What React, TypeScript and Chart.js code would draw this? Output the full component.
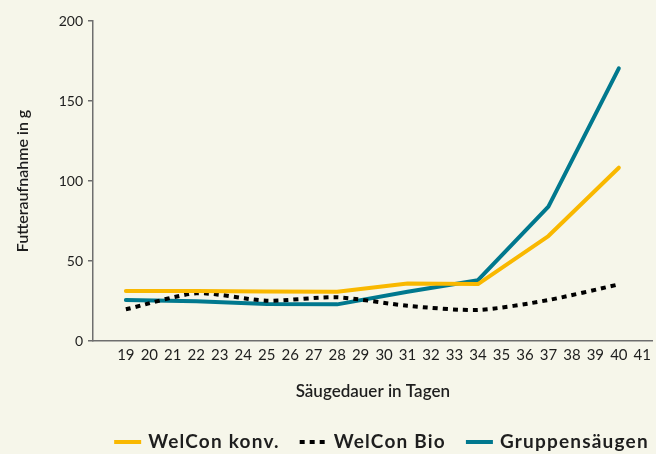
import React, { useEffect, useRef } from 'react';
import { Chart, registerables } from 'chart.js';

Chart.register(...registerables);

const days = [19, 22, 25, 28, 31, 34, 37, 40];
const welconKonv = [31.3, 31.2, 31.0, 30.8, 36.0, 35.6, 65.6, 108.3];
const welconBio = [19.8, 29.8, 25.2, 27.3, 22.0, 19.4, 25.6, 35.4];
const gruppensaeugen = [25.6, 24.8, 23.1, 22.9, 30.8, 38.0, 84.0, 170.4];
const xTickValues = [19, 20, 21, 22, 23, 24, 25, 26, 27, 28, 29, 30, 31, 32, 33, 34, 35, 36, 37, 38, 39, 40, 41];
const yTickValues = [0, 50, 100, 150, 200];
const seriesNames = ['WelCon konv.', 'WelCon Bio', 'Gruppensäugen'];
const xTitle = 'Säugedauer in Tagen';
const yTitle = 'Futteraufnahme in g';

const BG = '#F6F6EA';
const YELLOW = '#F9B800';
const BLACK = '#000000';
const TEAL = '#00788E';
const AXIS = '#6E6E6E';
const TEXT = '#1E1E1E';
const FONT = 'Lato';

const legendPlugin = {
  id: 'customLegend',
  afterDraw(chart: any) {
    const ctx = chart.ctx as any;
    ctx.save();
    ctx.font = `bold 19px ${FONT}`;
    try { ctx.letterSpacing = '1.2px'; } catch (e) {}
    const lineW = 27;
    const gapText = 7;
    const gapItem = 20;
    const items = chart.data.datasets.map((ds: any) => ({
      label: ds.label,
      color: ds.borderColor,
      dash: ds.borderDash || [],
    }));
    const widths = items.map((it: any) => lineW + gapText + ctx.measureText(it.label).width);
    const total = widths.reduce((a: number, b: number) => a + b, 0) + gapItem * (items.length - 1);
    let x = 381.5 - total / 2;
    const y = 442;
    items.forEach((it: any, i: number) => {
      ctx.beginPath();
      ctx.setLineDash(it.dash);
      ctx.lineWidth = 4;
      ctx.strokeStyle = it.color;
      ctx.lineCap = 'butt';
      ctx.moveTo(x, y);
      ctx.lineTo(x + lineW, y);
      ctx.stroke();
      ctx.setLineDash([]);
      ctx.fillStyle = TEXT;
      ctx.textBaseline = 'middle';
      ctx.textAlign = 'left';
      ctx.fillText(it.label, x + lineW + gapText, y);
      x += widths[i] + gapItem;
    });
    ctx.restore();
  },
};

export default function App() {
  const ref = useRef<HTMLCanvasElement | null>(null);

  useEffect(() => {
    if (!ref.current) return;
    const mk = (arr: number[]) => days.map((d, i) => ({ x: d, y: arr[i] }));
    const chart = new Chart(ref.current, {
      type: 'line',
      data: {
        datasets: [
          {
            label: seriesNames[0],
            data: mk(welconKonv),
            borderColor: YELLOW,
            backgroundColor: YELLOW,
            borderWidth: 4,
            pointRadius: 0,
            tension: 0,
            borderCapStyle: 'round',
            borderJoinStyle: 'round',
          },
          {
            label: seriesNames[1],
            data: mk(welconBio),
            borderColor: BLACK,
            backgroundColor: BLACK,
            borderWidth: 4,
            borderDash: [5, 5],
            pointRadius: 0,
            tension: 0.25,
            borderCapStyle: 'butt',
          },
          {
            label: seriesNames[2],
            data: mk(gruppensaeugen),
            borderColor: TEAL,
            backgroundColor: TEAL,
            borderWidth: 4,
            pointRadius: 0,
            tension: 0,
            borderCapStyle: 'round',
            borderJoinStyle: 'round',
          },
        ],
      },
      options: {
        animation: false,
        responsive: false,
        devicePixelRatio: 1,
        layout: { padding: { top: 21, right: 0, left: 0, bottom: 53 } },
        plugins: {
          legend: { display: false },
          tooltip: { enabled: false },
        },
        scales: {
          x: {
            type: 'linear',
            min: 17.6,
            max: 41.44,
            afterBuildTicks: (scale: any) => {
              scale.ticks = xTickValues.map((v) => ({ value: v }));
            },
            afterFit: (scale: any) => {
              scale.height = 60;
            },
            grid: { display: false, drawTicks: false },
            border: { display: true, color: AXIS, width: 1.5 },
            ticks: {
              autoSkip: false,
              maxRotation: 0,
              padding: 5,
              color: TEXT,
              font: { family: FONT, size: 15 },
              callback: (v: any) => String(v),
            },
            title: {
              display: true,
              text: xTitle,
              color: TEXT,
              font: { family: FONT, size: 17, weight: '600', lineHeight: 1 },
              padding: { top: 0, bottom: 1 },
            },
          },
          y: {
            type: 'linear',
            min: 0,
            max: 200,
            afterBuildTicks: (scale: any) => {
              scale.ticks = yTickValues.map((v) => ({ value: v }));
            },
            afterFit: (scale: any) => {
              scale.width = 93;
            },
            grid: {
              display: true,
              drawOnChartArea: false,
              drawTicks: true,
              tickLength: 5,
              color: AXIS,
              lineWidth: 1.5,
            },
            border: { display: true, color: AXIS, width: 1.5 },
            ticks: {
              padding: 5,
              color: TEXT,
              font: { family: FONT, size: 14 },
            },
            title: {
              display: true,
              text: yTitle,
              color: TEXT,
              font: { family: FONT, size: 16, weight: '600', lineHeight: 1 },
              padding: { top: 15, bottom: 0 },
            },
          },
        },
      },
      plugins: [legendPlugin],
    } as any);
    return () => chart.destroy();
  }, []);

  return (
    <div style={{ position: 'fixed', inset: 0, background: BG }}>
      <canvas ref={ref} width={656} height={454} style={{ display: 'block', width: 656, height: 454 }} />
    </div>
  );
}
